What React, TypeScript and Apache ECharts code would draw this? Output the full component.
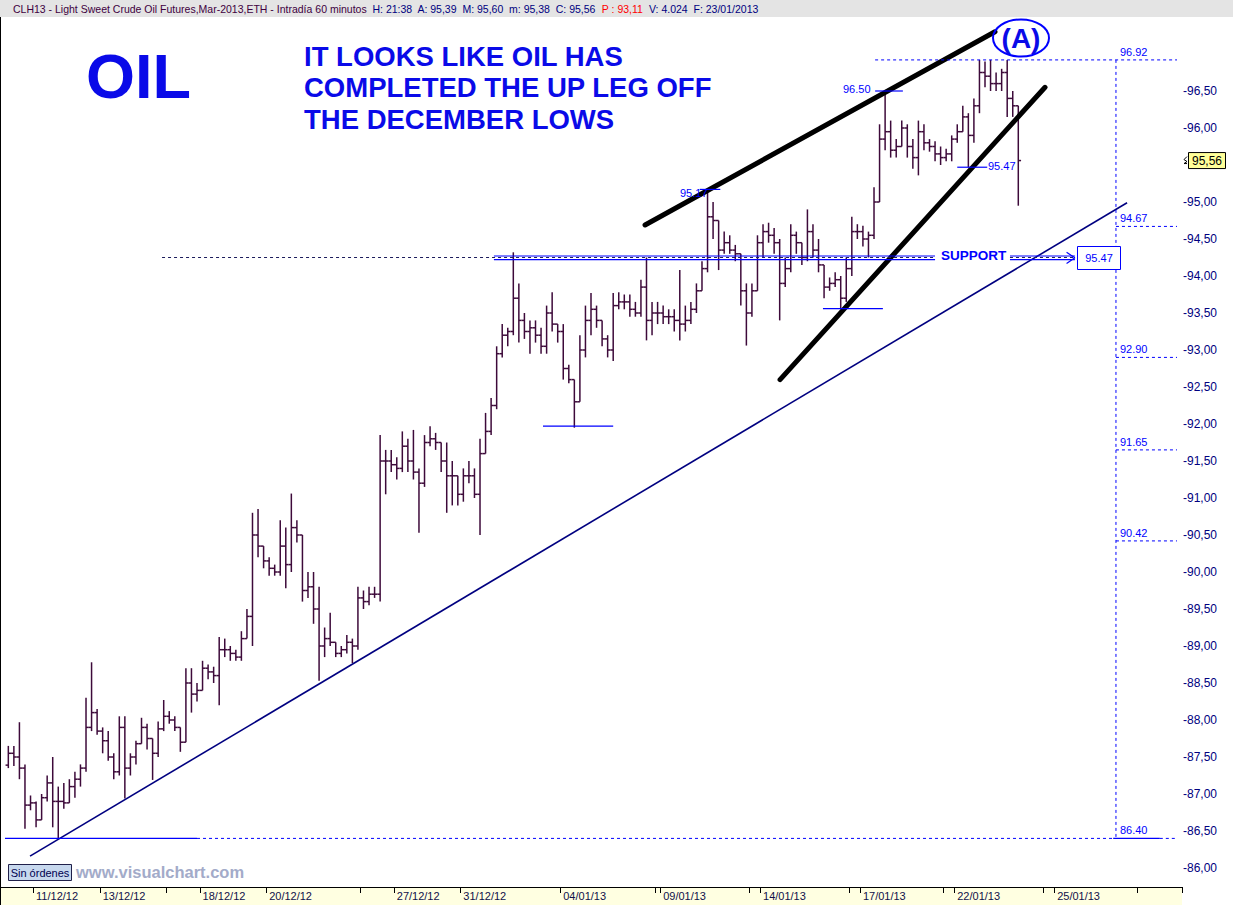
import React, { useEffect, useRef } from 'react';
import * as echarts from 'echarts';

// ---------- data ----------
const tradingDays = ['10/12/12','11/12/12','12/12/12','13/12/12','14/12/12','17/12/12','18/12/12','19/12/12','20/12/12','21/12/12','24/12/12','26/12/12','27/12/12','28/12/12','31/12/12','02/01/13','03/01/13','04/01/13','07/01/13','08/01/13','09/01/13','10/01/13','11/01/13','14/01/13','15/01/13','16/01/13','17/01/13','18/01/13','21/01/13','22/01/13','23/01/13','24/01/13','25/01/13','28/01/13','29/01/13','30/01/13'];
const barsPerDay = [6,6,6,6,6,6,6,6,6,6,5,6,6,6,6,6,6,6,6,6,6,6,6,6,6,6,6,6,5,6,6,6,6,6,6,5];
const labeledDays = ['11/12/12','13/12/12','18/12/12','20/12/12','27/12/12','31/12/12','04/01/13','09/01/13','14/01/13','17/01/13','22/01/13','25/01/13'];
const extraTickBars = [30, 65, 118, 135, 153, 170, 188, 205];

const firstBar = 1;
const firstOpen = 87.39;
const highs = [
87.65,87.65,87.97,87.4,86.98,86.9,87.0,87.25,87.5,87.1,
87.15,87.2,87.3,87.4,88.3,88.78,88.15,87.9,87.85,87.55,
88.05,88.05,87.55,87.72,88.03,87.95,87.75,87.98,88.27,88.12,
88.05,87.9,88.7,88.7,88.5,88.8,88.75,88.72,89.12,89.1,
89.0,88.95,89.2,89.5,90.8,90.85,90.35,90.2,90.1,90.7,
90.6,91.06,90.7,90.5,90.0,90.0,89.8,89.25,89.45,89.0,
89.0,89.15,89.1,89.8,89.75,89.8,89.8,91.85,91.65,91.65,
91.55,91.9,91.8,91.92,91.4,91.85,91.97,91.88,91.75,91.75,
91.5,91.3,91.4,91.5,91.4,91.8,92.15,92.35,93.05,93.35,
93.3,94.32,93.9,93.5,93.4,93.4,93.3,93.6,93.78,93.35,
93.35,92.8,92.6,93.2,93.6,93.77,93.6,93.35,93.2,93.77,
93.78,93.75,93.75,93.65,93.95,94.25,93.65,93.65,93.6,93.55,
93.55,94.08,93.6,93.65,93.9,94.2,95.15,95.0,94.7,94.6,
94.55,94.42,94.3,93.9,93.9,94.55,94.7,94.72,94.65,94.5,
94.25,94.7,94.6,94.45,94.9,94.7,94.5,94.1,93.98,94.05,
94.0,94.25,94.8,94.7,94.68,94.6,95.2,96.05,96.5,96.1,
95.85,96.1,96.05,95.85,96.1,96.05,95.85,95.82,95.75,95.72,
95.9,96.05,96.3,96.2,96.4,96.92,96.9,96.92,96.75,96.8,
96.92,96.5,96.3
];
const lows = [
87.35,87.38,87.2,86.53,86.78,86.55,86.7,86.9,86.55,86.4,
86.8,86.95,86.95,87.1,87.3,87.85,87.8,87.55,87.45,87.2,
87.25,86.94,87.25,87.4,87.68,87.6,87.19,87.5,87.85,87.95,
87.85,87.57,87.7,88.1,88.25,88.4,88.55,88.5,88.2,88.85,
88.8,88.8,88.8,89.1,89.0,90.2,90.05,89.95,89.95,89.95,
89.78,90.0,90.4,89.6,89.65,89.3,88.53,88.85,89.0,88.85,
88.85,88.9,88.77,88.95,89.5,89.55,89.65,89.6,91.05,91.35,
91.25,91.35,91.35,91.25,90.53,91.15,91.7,91.65,91.35,90.8,
90.9,90.9,90.95,91.2,91.0,90.5,91.6,91.85,92.2,92.9,
93.05,93.2,93.1,93.15,92.95,93.1,92.95,92.95,93.25,93.1,
92.6,92.55,91.95,92.3,92.9,93.2,93.3,93.05,92.9,92.85,
93.55,93.55,93.45,93.45,93.45,93.13,93.2,93.35,93.35,93.35,
93.25,93.13,93.25,93.35,93.5,93.8,94.05,94.5,94.08,94.3,
94.3,94.2,93.6,93.06,93.45,93.8,94.25,94.45,94.3,93.4,
93.85,94.05,94.3,94.15,94.2,94.25,94.05,93.7,93.8,93.85,
93.55,93.65,94.0,94.5,94.4,94.25,94.5,95.0,95.7,95.6,
95.6,95.75,95.6,95.45,95.36,95.7,95.68,95.55,95.5,95.55,
95.55,95.8,95.95,95.47,95.8,96.2,96.55,96.5,96.5,96.5,
96.15,96.15,94.95
];
const closes = [
87.55,87.5,87.35,86.85,86.88,86.65,86.95,87.15,86.9,86.9,
86.88,87.1,87.2,87.35,87.9,88.1,87.85,87.72,87.5,87.3,
87.9,87.35,87.5,87.68,87.9,87.75,87.55,87.88,88.05,88.0,
87.9,87.7,88.5,88.35,88.4,88.7,88.65,88.6,88.95,88.95,
88.9,88.85,89.1,89.4,90.5,90.35,90.15,90.05,90.0,90.35,
90.1,90.6,90.5,89.75,89.8,89.5,89.0,89.1,89.05,88.9,
88.95,89.05,89.0,89.65,89.6,89.7,89.7,91.5,91.5,91.45,
91.4,91.7,91.5,91.35,91.2,91.75,91.8,91.75,91.5,91.3,
91.3,91.05,91.3,91.3,91.05,91.6,91.9,92.25,92.95,93.2,
93.25,93.7,93.4,93.25,93.3,93.2,93.05,93.5,93.35,93.25,
92.75,92.6,92.3,93.0,93.4,93.55,93.4,93.15,93.0,93.6,
93.65,93.65,93.55,93.5,93.85,93.4,93.5,93.5,93.45,93.45,
93.4,93.35,93.4,93.55,93.8,94.1,94.8,94.75,94.35,94.45,
94.35,94.3,93.8,93.5,93.8,94.45,94.6,94.55,94.45,93.9,
94.1,94.55,94.45,94.25,94.6,94.35,94.15,93.85,93.9,93.95,
93.7,94.1,94.6,94.6,94.5,94.55,95.0,95.85,95.95,95.7,
95.75,96.0,95.75,95.6,95.95,95.8,95.75,95.65,95.6,95.65,
95.85,95.95,96.15,95.9,96.3,96.75,96.7,96.6,96.6,96.75,
96.4,96.3,95.56
];

// annotation segments: [x1, price1, x2, price2, style] (x in bar units)
const segments: [number, number, number, number, string][] = [
  [116.24, 94.69, 179.3, 97.30, 'thick'],
  [140.57, 92.60, 188.32, 96.55, 'thick'],
  [5.41, 86.16, 203.1, 94.99, 'navy'],
  [0.9, 86.40, 35.5, 86.40, 'blue'],
  [35.5, 86.40, 200.6, 86.40, 'blueDash'],
  [200.6, 86.40, 209.0, 86.40, 'blue'],
  [209.0, 86.40, 211.8, 86.40, 'blueDash'],
  [201.1, 96.92, 201.1, 86.40, 'blueDash'],
  [157.7, 96.92, 212.1, 96.92, 'blueDash'],
  [201.1, 94.67, 212.1, 94.67, 'blueDash'],
  [201.1, 92.90, 212.1, 92.90, 'blueDash'],
  [201.1, 91.65, 212.1, 91.65, 'blueDash'],
  [201.1, 90.42, 212.1, 90.42, 'blueDash'],
  [29.2, 94.25, 168.5, 94.25, 'darkDash'],
  [89.0, 94.27, 168.5, 94.27, 'blue'],
  [89.0, 94.22, 168.5, 94.22, 'blue'],
  [182.0, 94.25, 193.7, 94.25, 'darkDash'],
  [182.0, 94.27, 193.7, 94.27, 'blue'],
  [182.0, 94.22, 193.7, 94.22, 'blue'],
  [192.2, 94.32, 193.7, 94.245, 'blue'],
  [192.2, 94.17, 193.7, 94.245, 'blue'],
  [97.85, 91.97, 110.5, 91.97, 'blue'],
  [148.3, 93.56, 159.1, 93.56, 'blue'],
  [126.1, 95.17, 129.8, 95.17, 'blue'],
  [157.7, 96.50, 162.7, 96.50, 'blue'],
  [172.5, 95.47, 177.9, 95.47, 'blue'],
];

const levelLabels = ['96.92', '94.67', '92.90', '91.65', '90.42', '86.40'];
const lastPrice = 95.56;

// ---------- helpers ----------
const W = 1233, H = 905;
const GRID_RIGHT = 51;
const BAND_H = 18;
const FONT = 'Liberation Sans, Arial, sans-serif';
const PRICE_COLOR = '#3d0a3a';
const BLUE = '#0a0ae8';

const segStyles: Record<string, any> = {
  thick: { stroke: '#000000', lineWidth: 5, lineCap: 'round' },
  navy: { stroke: '#000080', lineWidth: 1.6 },
  blue: { stroke: '#0000ff', lineWidth: 1.2 },
  blueDash: { stroke: '#0000ff', lineWidth: 1, lineDash: [3, 3] },
  darkDash: { stroke: '#1c1c5c', lineWidth: 1, lineDash: [3, 3] },
};

function buildCategories() {
  const cats: string[] = [];
  const dayStart: Record<string, number> = {};
  tradingDays.forEach((d, di) => {
    dayStart[d] = cats.length;
    for (let k = 0; k < barsPerDay[di]; k++) cats.push(d + ' ' + k);
  });
  return { cats, dayStart };
}

export default function App() {
  const ref = useRef<HTMLDivElement>(null);
  useEffect(() => {
    if (!ref.current) return;
    const chart = echarts.init(ref.current, undefined, { renderer: 'svg' });
    const { cats, dayStart } = buildCategories();
    const nCats = cats.length;
    const labelIdx = new Set(labeledDays.map((d) => dayStart[d]));
    const tickIdx = new Set([...labelIdx, ...extraTickBars]);

    const ohlc = closes.map((c, k) => {
      const o = k === 0 ? firstOpen : closes[k - 1];
      const h = Math.max(highs[k], o, c);
      const l = Math.min(lows[k], o, c);
      return [firstBar + k, o, c, l, h];
    });

    const plotW = W - GRID_RIGHT;
    const pxPerBar = plotW / nCats;
    const priceToY = (p: number) => 17 + (97.5 - p) * 74;
    const levelTexts = levelLabels.map((t) => ({
      type: 'text', x: 201.1 * pxPerBar + 4, y: priceToY(parseFloat(t)) - 8, z: 60,
      style: { text: t, fill: '#0000ff', font: `11px ${FONT}`, textVerticalAlign: 'middle', verticalAlign: 'middle' },
    }));

    const txt = (text: string, x: number, y: number, size: number, opts: any = {}) => ({
      type: 'text', x, y, z: opts.z ?? 60,
      style: {
        text, fill: opts.fill ?? BLUE,
        font: `${opts.bold ? 'bold ' : ''}${size}px ${FONT}`,
        textAlign: opts.align ?? 'left', align: opts.align ?? 'left',
        textVerticalAlign: 'middle', verticalAlign: 'middle',
      },
    });

    const lpY = priceToY(lastPrice);

    const option: any = {
      animation: false,
      backgroundColor: '#ffffff',
      grid: { left: 0, right: GRID_RIGHT, top: 17, bottom: 0, containLabel: false },
      xAxis: [
        {
          type: 'category', data: cats, boundaryGap: true, position: 'bottom', offset: -BAND_H,
          axisLine: { show: true, lineStyle: { color: '#000000', width: 1 } },
          axisTick: { show: true, length: 6, inside: false, interval: (i: number) => tickIdx.has(i), lineStyle: { color: '#000000' } },
          axisLabel: {
            show: true, interval: (i: number) => labelIdx.has(i), align: 'left', margin: 3,
            color: '#10104a', fontSize: 11, fontFamily: FONT,
            formatter: (v: string) => v.split(' ')[0],
          },
          splitLine: { show: false },
        },
        { type: 'value', min: 0, max: nCats, show: false },
      ],
      yAxis: {
        type: 'value', position: 'right', min: 85.5, max: 97.5, interval: 0.5,
        axisLine: { show: true, lineStyle: { color: '#000000', width: 1 } },
        axisTick: { show: false },
        splitLine: { show: false },
        axisLabel: {
          margin: 1, color: '#000080', fontSize: 12, fontFamily: FONT,
          formatter: (v: number) => (v > 96.6 || v < 85.9 || Math.abs(v - 95.5) < 0.01 ? '' : '-' + v.toFixed(2).replace('.', ',')),
        },
      },
      series: [
        {
          type: 'custom', xAxisIndex: 0, yAxisIndex: 0, data: ohlc, z: 3,
          encode: { x: 0, y: [1, 2, 3, 4] },
          renderItem: (params: any, api: any) => {
            const i = api.value(0);
            const pO = api.coord([i, api.value(1)]);
            const pC = api.coord([i, api.value(2)]);
            const pL = api.coord([i, api.value(3)]);
            const pH = api.coord([i, api.value(4)]);
            const half = api.size([1, 0])[0] / 2;
            const style = { stroke: PRICE_COLOR, lineWidth: 1.5 };
            return {
              type: 'group',
              children: [
                { type: 'line', shape: { x1: pH[0], y1: pH[1], x2: pL[0], y2: pL[1] }, style },
                { type: 'line', shape: { x1: pO[0] - half, y1: pO[1], x2: pO[0], y2: pO[1] }, style },
                { type: 'line', shape: { x1: pC[0], y1: pC[1], x2: pC[0] + half, y2: pC[1] }, style },
              ],
            };
          },
        },
        {
          type: 'custom', xAxisIndex: 1, yAxisIndex: 0, z: 5,
          data: segments.map((s, k) => [s[0], s[1], s[2], s[3], k]),
          encode: { x: [0, 2], y: [1, 3] },
          renderItem: (params: any, api: any) => {
            const seg = segments[api.value(4)];
            const a = api.coord([seg[0], seg[1]]);
            const b = api.coord([seg[2], seg[3]]);
            return { type: 'line', shape: { x1: a[0], y1: a[1], x2: b[0], y2: b[1] }, style: segStyles[seg[4]] };
          },
        },
      ],
      graphic: [
        // bottom band
        { type: 'rect', z: -1, shape: { x: 0, y: H - BAND_H, width: plotW, height: BAND_H }, style: { fill: '#ffffe1' } },
        // top title bar
        { type: 'rect', z: 50, shape: { x: 0, y: 0, width: W, height: 17 }, style: { fill: '#e4e4e4' } },
        {
          type: 'text', x: 13, y: 9, z: 51,
          style: {
            text: '{a|CLH13 - Light Sweet Crude Oil Futures,Mar-2013,ETH - Intradía 60 minutos}  {b|H: 21:38  A: 95,39  M: 95,60  m: 95,38  C: 95,56}  {r|P : 93,11}  {b|V: 4.024  F: 23/01/2013}',
            font: `10.5px ${FONT}`, textVerticalAlign: 'middle', verticalAlign: 'middle',
            rich: {
              a: { fill: '#400040', color: '#400040', fontSize: 10.5, fontFamily: FONT },
              b: { fill: '#000080', color: '#000080', fontSize: 10.5, fontFamily: FONT },
              r: { fill: '#ff0000', color: '#ff0000', fontSize: 10.5, fontFamily: FONT },
            },
          },
        },
        // window buttons
        ...[1192, 1205, 1218].map((bx, k) => ({
          type: 'group', z: 52, children: [
            { type: 'rect', shape: { x: bx, y: 3, width: 12, height: 11 }, style: { fill: '#d8d8d8', stroke: '#808080', lineWidth: 1 } },
            { type: 'text', x: bx + 6, y: 8.5, style: { text: ['_', '▫', '×'][k], fill: '#000000', font: `bold 10px ${FONT}`, textAlign: 'center', align: 'center', textVerticalAlign: 'middle', verticalAlign: 'middle' } },
          ],
        })),
        // main texts
        txt('OIL', 86, 76, 63, { bold: true }),
        txt('IT LOOKS LIKE OIL HAS', 304, 56, 27.5, { bold: true }),
        txt('COMPLETED THE UP LEG OFF', 304, 87.5, 27.5, { bold: true }),
        txt('THE DECEMBER LOWS', 304, 119, 27.5, { bold: true }),
        // (A)
        { type: 'ellipse', z: 60, shape: { cx: 1021, cy: 38, rx: 28, ry: 18.5 }, style: { fill: 'rgba(255,255,255,0)', stroke: '#0000ff', lineWidth: 2 } },
        txt('(A)', 1021, 38, 28, { bold: true, align: 'center' }),
        // level annotations
        txt('96.50', 843, 89, 11, { fill: '#0000ff' }),
        txt('95.17', 680, 193, 11, { fill: '#0000ff' }),
        txt('95.47', 988, 166, 11, { fill: '#0000ff' }),
        txt('SUPPORT', 941, 255.5, 13.5, { bold: true, fill: '#0000ff' }),
        { type: 'rect', z: 60, shape: { x: 1077.5, y: 246.5, width: 43, height: 23 }, style: { fill: '#ffffff', stroke: '#0000ff', lineWidth: 1 } },
        txt('95.47', 1099, 258, 11, { fill: '#0000ff', align: 'center', z: 61 }),
        ...levelTexts,
        // last price box with small marker
        { type: 'polyline', z: 100, shape: { points: [[1187, lpY - 4], [1184, lpY - 1], [1187, lpY + 1], [1184, lpY + 3], [1187, lpY + 3]] }, style: { stroke: '#000000', lineWidth: 1, fill: 'none' } },
        { type: 'rect', z: 100, shape: { x: 1188.5, y: lpY - 8, width: 37, height: 16 }, style: { fill: '#ffff99', stroke: '#000000', lineWidth: 1 } },
        txt('95,56', 1207, lpY, 12, { fill: '#000000', align: 'center', z: 101 }),
        // footer
        { type: 'rect', z: 60, shape: { x: 8.5, y: 864.5, width: 63, height: 16 }, style: { fill: '#c7d8ee', stroke: '#20204a', lineWidth: 1 } },
        txt('Sin órdenes', 40, 872.5, 11, { fill: '#000050', align: 'center', z: 61 }),
        txt('www.visualchart.com', 76, 871.5, 16.5, { bold: true, fill: '#a3abc9' }),
      ],
    };
    chart.setOption(option);
    return () => chart.dispose();
  }, []);
  return <div ref={ref} style={{ position: 'fixed', left: 0, top: 0, width: W, height: H, background: '#fff' }} />;
}
